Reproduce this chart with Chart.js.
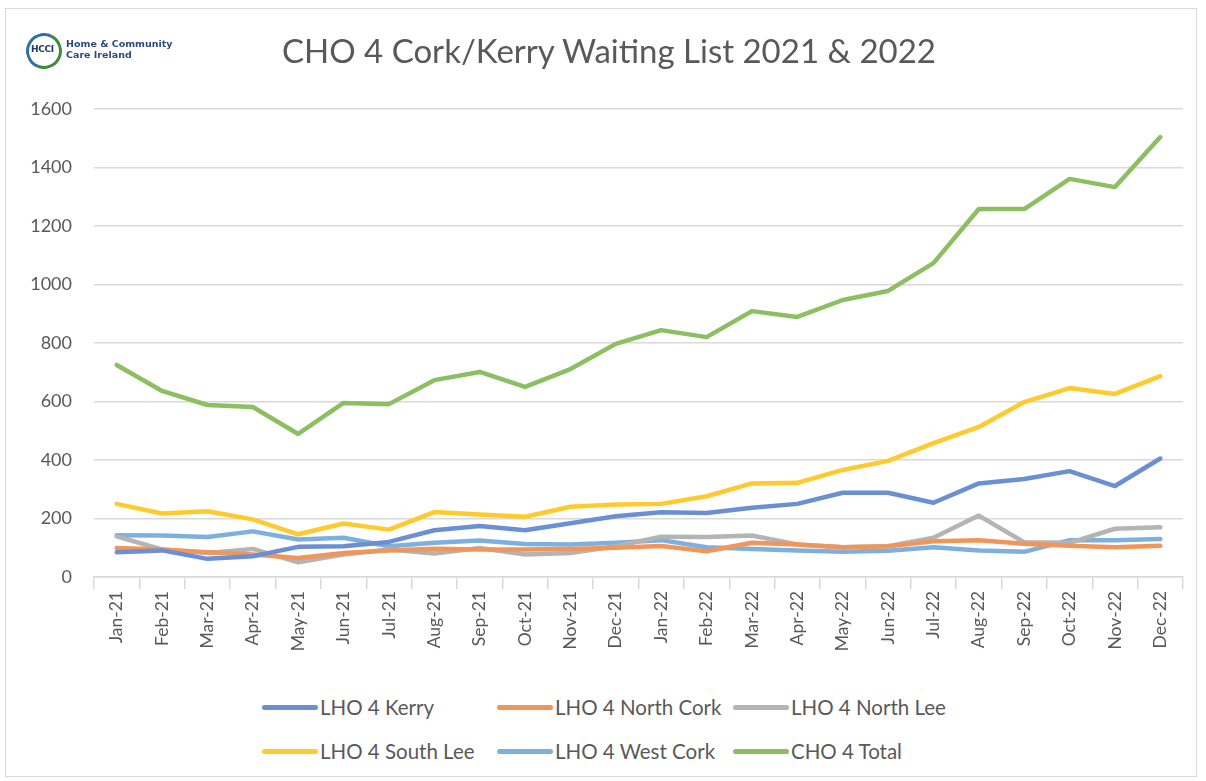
<!DOCTYPE html>
<html>
<head>
<meta charset="utf-8">
<script src="https://cdn.jsdelivr.net/npm/chart.js@4/dist/chart.umd.min.js"></script>
<style>
  body { margin: 0; background: #fff; font-family: Lato, "Open Sans", sans-serif; }
  #wrap { position: relative; width: 1206px; height: 781px; }
  #frame { position: absolute; left: 5px; top: 8px; width: 1192px; height: 769px; border: 1.5px solid #d9d9d9; box-sizing: border-box; }
  #title { position: absolute; left: 0; width: 1218px; top: 30px; text-align: center; font-size: 33px; color: #595959; }
  #logo { position: absolute; left: 26px; top: 30px; width: 150px; height: 42px; }
  #logo .ring { position: absolute; left: 0; top: 3px; width: 30px; height: 30px; border-radius: 50%;
    border: 3px solid transparent; border-top-color: #2f6fa8; border-left-color: #2f6fa8; border-bottom-color: #3e8a3a; border-right-color: #3e8a3a; transform: rotate(-20deg); }
  #logo .abbr { position: absolute; left: 5px; top: 14px; font: bold 9px "DejaVu Sans", sans-serif; color: #1f3b63; letter-spacing: -0.3px; }
  #logo .name { position: absolute; left: 40px; top: 8px; font: bold 9.5px "DejaVu Sans", sans-serif; color: #2d4a7a; line-height: 11px; }
  #chart { position: absolute; left: 0; top: 0; }
  .leg { position: absolute; font-size: 20.5px; color: #595959; white-space: nowrap; }
  .leg i { position: absolute; left: 0; top: 50%; width: 56px; height: 5px; margin-top: -2px; border-radius: 3px; }
  .leg span { margin-left: 58px; }
</style>
</head>
<body>
<div id="wrap">
  <div id="frame"></div>
  <canvas id="chart" width="1206" height="690"></canvas>
  <div id="title">CHO 4 Cork/Kerry Waiting List 2021 &amp; 2022</div>
  <div id="logo">
    <div class="ring"></div>
    <div class="abbr">HCCI</div>
    <div class="name">Home &amp; Community<br>Care Ireland</div>
  </div>
  <div id="legend"></div>
</div>
<script>
var months = ['Jan-21', 'Feb-21', 'Mar-21', 'Apr-21', 'May-21', 'Jun-21', 'Jul-21', 'Aug-21', 'Sep-21', 'Oct-21', 'Nov-21', 'Dec-21',
  'Jan-22', 'Feb-22', 'Mar-22', 'Apr-22', 'May-22', 'Jun-22', 'Jul-22', 'Aug-22', 'Sep-22', 'Oct-22', 'Nov-22', 'Dec-22'];

var kerry = [85, 91, 62, 71, 103, 105, 120, 160, 174, 160, 184, 208, 221, 219, 237, 250, 288, 288, 254, 320, 335, 362, 311, 405];
var northCork = [99, 94, 85, 77, 65, 82, 91, 97, 94, 94, 96, 100, 106, 88, 117, 111, 102, 105, 122, 126, 114, 107, 102, 107];
var northLee = [139, 94, 82, 96, 50, 77, 94, 80, 99, 77, 82, 105, 138, 137, 142, 111, 102, 105, 134, 210, 119, 117, 165, 170];
var southLee = [250, 217, 225, 197, 146, 183, 162, 222, 214, 206, 240, 248, 250, 276, 320, 322, 366, 397, 458, 513, 598, 646, 626, 687];
var westCork = [143, 142, 137, 156, 128, 134, 105, 117, 125, 113, 111, 117, 126, 102, 96, 91, 86, 90, 102, 91, 86, 126, 126, 130];
var total = [725, 636, 588, 581, 489, 595, 591, 673, 701, 650, 711, 797, 844, 820, 909, 889, 947, 978, 1073, 1258, 1258, 1361, 1333, 1504];

var yTicks = [0, 200, 400, 600, 800, 1000, 1200, 1400, 1600];

var series = [
  { label: 'LHO 4 Kerry', data: kerry, color: '#6a8fd2' },
  { label: 'LHO 4 North Cork', data: northCork, color: '#f0965a' },
  { label: 'LHO 4 North Lee', data: northLee, color: '#b4b4b4' },
  { label: 'LHO 4 South Lee', data: southLee, color: '#ffca2e' },
  { label: 'LHO 4 West Cork', data: westCork, color: '#7eb0df' },
  { label: 'CHO 4 Total', data: total, color: '#8cbf62' }
];

var datasets = [];
for (var s of series) {
  datasets.push({
    label: s.label,
    data: s.data,
    borderColor: s.color,
    backgroundColor: s.color,
    borderWidth: 4.5,
    pointRadius: 0,
    tension: 0,
    borderCapStyle: 'round',
    borderJoinStyle: 'round'
  });
}

var ctx = document.getElementById('chart').getContext('2d');
var myChart = new Chart(ctx, {
  type: 'line',
  data: { labels: months, datasets: datasets },
  options: {
    responsive: false,
    animation: false,
    layout: { padding: { left: 10, right: 23, top: 109, bottom: 0 } },
    plugins: { legend: { display: false }, title: { display: false }, tooltip: { enabled: false } },
    scales: {
      x: {
        offset: true,
        grid: { drawOnChartArea: false, drawTicks: true, tickLength: 12, color: '#d9d9d9', lineWidth: 1.5, offset: true },
        border: { color: '#d9d9d9', width: 1.5 },
        ticks: { minRotation: 90, maxRotation: 90, autoSkip: false, padding: 2, color: '#595959', font: { family: 'Lato', size: 17.5 } },
        afterFit: function(scale) { scale.height = 690 - 577; }
      },
      y: {
        min: 0,
        max: 1600,
        afterBuildTicks: function(scale) { scale.ticks = yTicks.map(function(v) { return { value: v }; }); },
        grid: { drawTicks: false, color: '#d9d9d9', lineWidth: 1.5 },
        border: { display: false },
        ticks: {
          padding: 22, color: '#595959', font: { family: 'Lato', size: 18 },
          callback: function(value) { return String(value); }
        },
        afterFit: function(scale) { scale.width = 84; }
      }
    }
  }
});

// legend laid out in three columns, as in the original
var legendCols = [262, 497, 733];
var legendRows = [708, 752];
var legend = document.getElementById('legend');
series.forEach(function(s, i) {
  var d = document.createElement('div');
  d.className = 'leg';
  d.style.left = legendCols[i % 3] + 'px';
  d.style.top = (legendRows[Math.floor(i / 3)] - 13) + 'px';
  d.innerHTML = '<i style="background:' + s.color + '"></i><span>' + s.label + '</span>';
  legend.appendChild(d);
});
</script>
</body>
</html>
